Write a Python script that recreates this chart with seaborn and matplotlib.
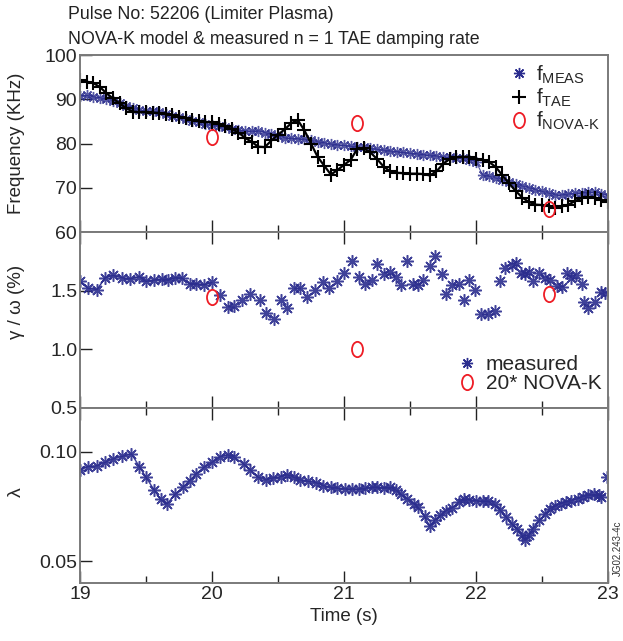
import numpy as np
import pandas as pd
import matplotlib
matplotlib.use("Agg")
import matplotlib.pyplot as plt
import seaborn as sns
from matplotlib.path import Path
from matplotlib.transforms import Affine2D
from matplotlib.lines import Line2D
from matplotlib.ticker import MultipleLocator

# ---- data ----
t_freq = [19.00, 19.05, 19.10, 19.15, 19.20, 19.25, 19.30, 19.35, 19.40, 19.45,
          19.50, 19.55, 19.60, 19.65, 19.70, 19.75, 19.80, 19.85, 19.90, 19.95,
          20.00, 20.05, 20.10, 20.15, 20.20, 20.25, 20.30, 20.35, 20.40, 20.45,
          20.50, 20.55, 20.60, 20.65, 20.70, 20.75, 20.80, 20.85, 20.90, 20.95,
          21.00, 21.05, 21.10, 21.15, 21.20, 21.25, 21.30, 21.35, 21.40, 21.45,
          21.50, 21.55, 21.60, 21.65, 21.70, 21.75, 21.80, 21.85, 21.90, 21.95,
          22.00, 22.05, 22.10, 22.15, 22.20, 22.25, 22.30, 22.35, 22.40, 22.45,
          22.50, 22.55, 22.60, 22.65, 22.70, 22.75, 22.80, 22.85, 22.90, 22.95,
          23.00]
f_meas = [90.8, 90.9, 90.6, 90.4, 90.0, 89.6, 89.2, 88.6, 88.0, 87.6,
          87.4, 87.3, 87.1, 86.7, 86.3, 86.0, 85.6, 85.2, 84.8, 84.5,
          84.2, 84.0, 83.7, 83.4, 83.1, 82.9, 82.8, 82.9, 82.5, 82.1,
          81.7, 81.3, 81.2, 81.1, 81.0, 80.7, 80.4, 80.2, 79.9, 79.7,
          79.6, 79.4, 79.2, 79.2, 78.9, 78.7, 78.5, 78.3, 78.2, 78.0,
          77.8, 77.7, 77.5, 77.4, 77.2, 77.0, 76.9, 76.8, 76.7, 76.3,
          75.9, 72.9, 72.6, 72.2, 71.8, 71.3, 70.8, 70.4, 70.0, 69.6,
          69.2, 68.8, 68.4, 68.4, 68.6, 68.8, 68.9, 69.0, 69.1, 68.7,
          68.2]
f_tae = [94.4, 94.0, 93.7, 92.8, 91.4, 90.2, 89.1, 88.0, 87.2, 87.1,
         87.1, 87.0, 86.9, 86.7, 86.5, 86.1, 85.8, 85.4, 85.1, 84.9,
         84.8, 84.4, 83.9, 83.3, 82.5, 81.3, 80.4, 79.3, 79.2, 80.7,
         82.0, 83.2, 84.6, 85.3, 83.0, 80.0, 77.0, 75.0, 73.0, 74.0,
         75.2, 76.3, 78.8, 78.9, 78.0, 76.5, 74.8, 73.7, 73.4, 73.3,
         73.2, 73.2, 73.1, 72.8, 73.7, 75.4, 76.5, 76.9, 77.0, 77.0,
         76.6, 76.3, 75.8, 74.7, 72.8, 71.0, 69.3, 67.8, 66.8, 66.2,
         66.1, 66.0, 65.5, 65.8, 66.2, 67.0, 67.7, 68.0, 67.7, 67.2,
         66.8]

t_nova = [20.0, 21.1, 22.55]
f_nova = [81.4, 84.7, 65.2]
g_nova = [1.45, 1.0, 1.475]

t_gam = [19.00, 19.06, 19.13, 19.19, 19.25, 19.32, 19.38, 19.45, 19.50, 19.56,
         19.62, 19.67, 19.72, 19.77, 19.83, 19.88, 19.94, 20.00, 20.06, 20.12,
         20.17, 20.23, 20.29, 20.36, 20.41, 20.47, 20.52, 20.57, 20.62, 20.67,
         20.72, 20.78, 20.84, 20.89, 20.95, 21.00, 21.06, 21.11, 21.16, 21.21,
         21.25, 21.30, 21.35, 21.39, 21.43, 21.48, 21.52, 21.56, 21.60, 21.65,
         21.69, 21.74, 21.77, 21.82, 21.87, 21.91, 21.95, 21.99, 22.04, 22.09,
         22.14, 22.18, 22.22, 22.27, 22.30, 22.34, 22.37, 22.40, 22.43, 22.48,
         22.52, 22.56, 22.61, 22.65, 22.69, 22.72, 22.76, 22.80, 22.82, 22.85,
         22.90, 22.95, 22.98]
gam = [1.58, 1.52, 1.51, 1.61, 1.63, 1.61, 1.60, 1.62, 1.58, 1.59,
       1.60, 1.59, 1.61, 1.61, 1.56, 1.56, 1.55, 1.57, 1.46, 1.36,
       1.37, 1.42, 1.47, 1.42, 1.31, 1.26, 1.42, 1.35, 1.52, 1.52,
       1.45, 1.51, 1.57, 1.52, 1.58, 1.65, 1.75, 1.62, 1.56, 1.59,
       1.73, 1.64, 1.66, 1.62, 1.55, 1.75, 1.56, 1.55, 1.59, 1.71,
       1.80, 1.64, 1.47, 1.55, 1.56, 1.42, 1.59, 1.51, 1.30, 1.30,
       1.33, 1.58, 1.69, 1.72, 1.74, 1.65, 1.64, 1.66, 1.58, 1.65,
       1.61, 1.59, 1.54, 1.53, 1.65, 1.61, 1.63, 1.56, 1.40, 1.35,
       1.40, 1.49, 1.48]
n_gam_joined = 18  # first stretch drawn with a connecting line

t_lam = [19.00, 19.06, 19.13, 19.19, 19.25, 19.32, 19.39, 19.45, 19.50, 19.56,
         19.61, 19.66, 19.72, 19.78, 19.83, 19.88, 19.94, 20.00, 20.06, 20.12,
         20.17, 20.24, 20.29, 20.35, 20.41, 20.46, 20.52, 20.57, 20.62, 20.67,
         20.73, 20.79, 20.84, 20.90, 20.95, 21.01, 21.06, 21.11, 21.16, 21.21,
         21.25, 21.30, 21.35, 21.39, 21.43, 21.48, 21.53, 21.56, 21.61, 21.65,
         21.69, 21.73, 21.77, 21.82, 21.87, 21.91, 21.95, 22.00, 22.05, 22.09,
         22.14, 22.18, 22.23, 22.27, 22.31, 22.35, 22.37, 22.40, 22.43, 22.48,
         22.52, 22.56, 22.60, 22.64, 22.68, 22.72, 22.77, 22.81, 22.85, 22.89,
         22.93, 22.95]
lam = [0.0917, 0.0932, 0.0936, 0.0951, 0.0967, 0.0979, 0.0990, 0.0932, 0.0883, 0.0827,
       0.0782, 0.0762, 0.0805, 0.0838, 0.0868, 0.0899, 0.0929, 0.0951, 0.0977, 0.0986,
       0.0974, 0.0944, 0.0917, 0.0883, 0.0871, 0.0880, 0.0886, 0.0895, 0.0883, 0.0871,
       0.0865, 0.0858, 0.0845, 0.0838, 0.0833, 0.0830, 0.0830, 0.0828, 0.0833, 0.0838,
       0.0838, 0.0833, 0.0838, 0.0826, 0.0805, 0.0785, 0.0762, 0.0747, 0.0705, 0.0659,
       0.0690, 0.0709, 0.0729, 0.0744, 0.0770, 0.0785, 0.0780, 0.0777, 0.0774, 0.0774,
       0.0759, 0.0735, 0.0701, 0.0671, 0.0649, 0.0618, 0.0595, 0.0618, 0.0649, 0.0686,
       0.0714, 0.0740, 0.0750, 0.0762, 0.0770, 0.0777, 0.0785, 0.0795, 0.0800, 0.0805,
       0.0800, 0.0795]
t_lam_end = [22.99]
lam_end = [0.0886]

# ---- styling ----
sns.set_style("ticks")
plt.rcParams["font.family"] = ["Liberation Sans", "DejaVu Sans"]
plt.rcParams["mathtext.fontset"] = "custom"
plt.rcParams["mathtext.rm"] = "Liberation Sans"
plt.rcParams["mathtext.it"] = "Liberation Sans"

BLUE = "#2b2d8e"
RED = "#ee1c25"
AST = (8, 2, 0)
ELL = Path.unit_circle().transformed(Affine2D().scale(0.72, 1.0))

fig = plt.figure(figsize=(6.23, 6.41), dpi=100)
L, W = 0.1284, 0.8476
ax1 = fig.add_axes([L, 0.638, W, 0.276])
ax2 = fig.add_axes([L, 0.3635, W, 0.2745])
ax3 = fig.add_axes([L, 0.0905, W, 0.273])

freq = pd.DataFrame({"t": t_freq, "meas": f_meas, "tae": f_tae})
nova = pd.DataFrame({"t": t_nova, "f": f_nova, "g": g_nova})
gdf = pd.DataFrame({"t": t_gam, "g": gam})
ldf = pd.DataFrame({"t": t_lam, "lam": lam})

# top: frequencies
sns.lineplot(data=freq, x="t", y="meas", ax=ax1, color=BLUE, lw=0.8,
             marker=AST, ms=8, mew=1.0, mec=BLUE, alpha=0.8, estimator=None, sort=False)
sns.lineplot(data=freq, x="t", y="tae", ax=ax1, color="black", lw=1.6,
             marker="+", ms=10, mew=1.5, mec="black", estimator=None, sort=False)
ax1.plot(nova["t"], nova["f"], ls="none", marker=ELL, ms=11, mfc="none", mec=RED, mew=1.3)

# middle: damping rate
sns.lineplot(data=gdf.iloc[:n_gam_joined], x="t", y="g", ax=ax2, color=BLUE, lw=1.0,
             estimator=None, sort=False)
ax2.plot(gdf["t"], gdf["g"], ls="none", marker=AST, ms=9, mew=1.1, mec=BLUE, alpha=0.9)
ax2.plot(nova["t"], nova["g"], ls="none", marker=ELL, ms=11, mfc="none", mec=RED, mew=1.3)

# bottom: lambda
sns.lineplot(data=ldf, x="t", y="lam", ax=ax3, color=BLUE, lw=1.0,
             marker=AST, ms=9, mew=1.1, mec=BLUE, alpha=0.9, estimator=None, sort=False)
ax3.plot(t_lam_end, lam_end, ls="none", marker=AST, ms=9, mew=1.1, mec=BLUE, alpha=0.9)

for ax in (ax1, ax2, ax3):
    ax.set_xlim(19, 23)
    ax.xaxis.set_major_locator(MultipleLocator(1))
    ax.xaxis.set_minor_locator(MultipleLocator(0.5))
    ax.tick_params(axis="both", which="major", direction="in", length=8.5, width=1,
                   labelsize=14, color="#222222", pad=2)
    ax.tick_params(axis="x", which="minor", direction="in", length=5, width=1, color="#222222")
    for s in ax.spines.values():
        s.set_color("#7a7a7a")
        s.set_linewidth(1.4)
    ax.set_xlabel("")

ax1.tick_params(axis="x", which="both", labelbottom=False, top=False)
ax2.tick_params(axis="x", which="both", labelbottom=False, top=True)
ax3.tick_params(axis="x", which="both", top=True)

ax1.set_ylim(60, 100)
ax1.set_yticks([60, 70, 80, 90, 100])
ax2.set_ylim(0.5, 2.0)
ax2.set_yticks([0.5, 1.0, 1.5])
ax2.set_yticklabels(["0.5", "1.0", "1.5"])
ax3.set_ylim(0.04, 0.12)
ax3.set_yticks([0.05, 0.10])
ax3.set_yticklabels(["0.05", "0.10"])

ax1.set_ylabel("Frequency (KHz)", fontsize=13.5)
ax2.set_ylabel("γ / ω (%)", fontsize=13.5)
ax3.set_ylabel("λ", fontsize=14)
ax1.yaxis.set_label_coords(-0.105, 0.5)
ax2.yaxis.set_label_coords(-0.105, 0.6)
ax3.yaxis.set_label_coords(-0.105, 0.52)
ax3.set_xlabel("Time (s)", fontsize=13.5, labelpad=4)

# legends
h_meas = Line2D([], [], ls="none", marker=AST, ms=8, mew=1.0, color=BLUE)
h_tae = Line2D([], [], ls="none", marker="+", ms=10, mew=1.5, color="black")
h_nova = Line2D([], [], ls="none", marker=ELL, ms=11, mfc="none", mec=RED, mew=1.3)
ax1.legend([h_meas, h_tae, h_nova],
           [r"f$_{\mathregular{MEAS}}$", r"f$_{\mathregular{TAE}}$", r"f$_{\mathregular{NOVA\text{-}K}}$"],
           loc="upper right", frameon=False, fontsize=15, handlelength=1.0,
           handletextpad=0.3, labelspacing=0.05, borderaxespad=0.2, borderpad=0.2)
ax2.legend([h_meas, h_nova], ["measured", "20* NOVA-K"],
           loc="lower right", bbox_to_anchor=(1.0, 0.05), frameon=False, fontsize=15,
           handlelength=1.0, handletextpad=0.4, labelspacing=0.0, borderaxespad=0.2, borderpad=0.1)

fig.text(0.109, 0.977, "Pulse No: 52206 (Limiter Plasma)", fontsize=12.8, va="center", color="#222222")
fig.text(0.109, 0.938, "NOVA-K model & measured n = 1 TAE damping rate", fontsize=12.8,
         va="center", color="#222222")
fig.text(0.991, 0.145, "JG02.243-4c", fontsize=7, rotation=90, ha="center", va="center", color="#333333")

fig.savefig("out.png", dpi=100)
